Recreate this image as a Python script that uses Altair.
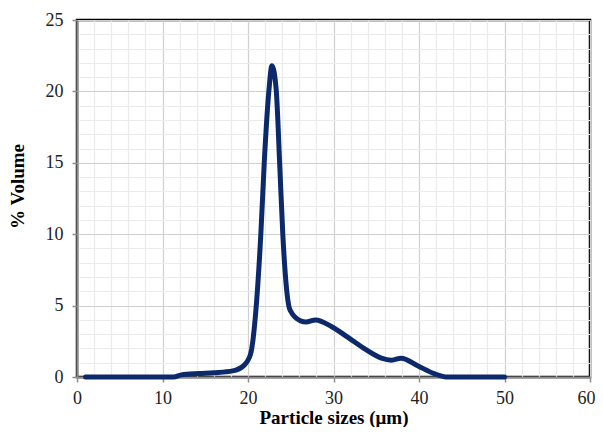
import altair as alt
import pandas as pd

# Particle size distribution
size_um = [1, 11.3, 12.2, 14.3, 16.0, 18.2, 19.5, 20.3, 20.9, 21.5, 21.9, 22.45, 22.8,
           23.3, 23.7, 24.07, 24.8, 25.0, 25.5, 26.8, 27.9, 29.8, 31.7, 33.7, 35.6,
           36.8, 37.9, 39.9, 41.8, 43.4, 50]
volume_pct = [0, 0, 0.15, 0.24, 0.3, 0.43, 0.8, 1.6, 4.5, 10, 15, 20.1, 21.8,
              20.1, 15, 10, 4.9, 4.6, 4.2, 3.85, 4.0, 3.52, 2.77, 1.95, 1.32,
              1.18, 1.32, 0.77, 0.23, 0, 0]

x_ticks = list(range(0, 61, 2))
y_ticks = list(range(0, 26, 1))

df = pd.DataFrame({"size": size_um, "vol": volume_pct})

FONT = "Liberation Serif"

def axis(values, major, title, label_pad, **extra):
    test = f"datum.value % {major} === 0"
    return alt.Axis(
        values=values,
        title=title,
        grid=True,
        gridColor={"condition": {"test": test, "value": "#cfcfcf"}, "value": "#ebebeb"},
        gridWidth=1.2,
        tickOpacity={"condition": {"test": test, "value": 1}, "value": 0},
        tickColor="#8c8c8c",
        tickSize=5,
        tickWidth=1.5,
        domainColor="#8c8c8c",
        domainWidth=2,
        labelExpr=f"{test} ? datum.label : ''",
        labelOverlap=False,
        labelFlush=False,
        labelFont=FONT,
        labelFontSize=18,
        labelColor="#222222",
        labelPadding=label_pad,
        titleFont=FONT,
        titleFontSize=19,
        titleFontWeight="bold",
        titleColor="#000000",
        **extra,
    )

chart = (
    alt.Chart(df)
    .mark_line(color="#0c2a6b", strokeWidth=5, interpolate="monotone", strokeCap="round")
    .encode(
        x=alt.X("size:Q", scale=alt.Scale(domain=[0, 60], nice=False),
                axis=axis(x_ticks, 10, "Particle sizes (μm)", 7,
                          labelOffset={"condition": {"test": "datum.value === 60", "value": -4}, "value": 0},
                          titleBaseline="alphabetic", titleY=46)),
        y=alt.Y("vol:Q", scale=alt.Scale(domain=[0, 25], nice=False),
                axis=axis(y_ticks, 5, "% Volume", 9,
                          titleBaseline="middle", titleX=-60, titleY=166)),
    )
    .properties(
        width=513,
        height=357,
        autosize="none",
        padding={"left": 69, "top": 12, "right": 5, "bottom": 50},
        background="white",
    )
    .configure_view(stroke="#000000", strokeWidth=2.5)
)

chart.save("out.html", embed_options={"renderer": "svg", "actions": False})
